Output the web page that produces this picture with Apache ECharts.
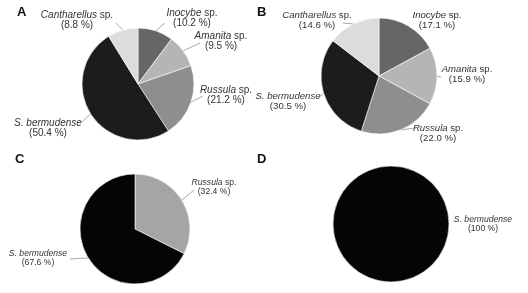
<!DOCTYPE html>
<html><head><meta charset="utf-8">
<script src="https://cdn.jsdelivr.net/npm/echarts@6/dist/echarts.min.js"></script>
<style>html,body{margin:0;padding:0;background:#fff}#c{width:528px;height:293px}</style>
</head><body><div id="c"></div>
<script>
// Data
var genera = ['Inocybe', 'Amanita', 'Russula', 'S. bermudense', 'Cantharellus'];
var valuesA = [10.2, 9.5, 21.2, 50.4, 8.8];
var valuesB = [17.1, 15.9, 22.0, 30.5, 14.6];
var generaC = ['Russula', 'S. bermudense'];
var valuesC = [32.4, 67.6];
var generaD = ['S. bermudense'];
var valuesD = [100];
var panelLetters = ['A', 'B', 'C', 'D'];

// Styles / layout (kept separate from data)
var colorMap = {
  'Inocybe': '#666666', 'Amanita': '#b5b5b5', 'Russula': '#8e8e8e',
  'S. bermudense': '#1c1c1c', 'Cantharellus': '#dcdcdc'
};
var colorMapC = { 'Russula': '#a5a5a5', 'S. bermudense': '#050505' };
var colorMapD = { 'S. bermudense': '#050505' };

// label centre [x, y] and leader end [x, y] for each slice, per panel
var labelPos = [
  { 'Inocybe': [[192, 18], [165, 23]], 'Amanita': [[221, 41], [200, 43]], 'Russula': [[226, 95], [203, 96]],
    'S. bermudense': [[48, 128], [82, 122]], 'Cantharellus': [[77, 20], [116, 23]] },
  { 'Inocybe': [[437, 20], [408, 26]], 'Amanita': [[467, 74], [441, 77]], 'Russula': [[438, 133], [416, 128]],
    'S. bermudense': [[288, 101], [318, 98]], 'Cantharellus': [[317, 20], [343, 23]] },
  { 'Russula': [[214, 187], [194, 190]], 'S. bermudense': [[38, 258], [70, 259]] },
  { 'S. bermudense': [[483, 224], null] }
];
var fontSizes = [10, 9.6, 8.6, 8.6];

function pct(v) { return v === 100 ? '100' : v.toFixed(1); }
function mk(names, vals, cmap) {
  return names.map(function (n, i) {
    return { name: n, value: vals[i], itemStyle: { color: cmap[n] } };
  });
}
var FONT = '"Liberation Sans", Arial, sans-serif';
function makeLabel(fs) {
  var lh = fs * 1.05;
  return {
    show: true, position: 'outside', color: '#333', fontFamily: FONT, fontSize: fs,
    lineHeight: lh, align: 'center',
    formatter: function (p) {
      var s = p.name === 'S. bermudense' ? '' : '{n| sp.}';
      return '{i|' + p.name + '}' + s + '\n{n|(' + pct(p.value) + ' %)}';
    },
    rich: {
      i: { fontStyle: 'italic', fontFamily: FONT, fontSize: fs, color: '#333', lineHeight: lh },
      n: { fontFamily: FONT, fontSize: fs, color: '#333', lineHeight: lh }
    }
  };
}
function series(idx, center, r, data) {
  return {
    type: 'pie', center: center, radius: r, startAngle: 90, clockwise: true,
    data: data, label: makeLabel(fontSizes[idx]),
    labelLine: { show: true, length: 4, length2: 3, lineStyle: { color: '#aaa', width: 1 } },
    silent: true, animation: false, avoidLabelOverlap: false,
    itemStyle: { borderColor: '#fff', borderWidth: 0.6 },
    labelLayout: function (p) {
      var name = data[p.dataIndex].name;
      var pos = labelPos[idx][name];
      var out = { x: pos[0][0], y: pos[0][1], align: 'center', verticalAlign: 'middle',
        hideOverlap: false, moveOverlap: false };
      if (pos[1] && p.labelLinePoints) {
        var p0 = p.labelLinePoints[0];
        out.labelLinePoints = [p0, pos[1], pos[1]];
      } else {
        out.labelLinePoints = [[0, 0], [0, 0], [0, 0]];
      }
      return out;
    }
  };
}
var chart = echarts.init(document.getElementById('c'), null, { renderer: 'canvas' });
chart.setOption({
  backgroundColor: '#fff',
  animation: false,
  graphic: [
    { type: 'text', left: 17, top: 6, style: { text: panelLetters[0], font: 'bold 13px ' + FONT, fill: '#111' } },
    { type: 'text', left: 257, top: 6, style: { text: panelLetters[1], font: 'bold 13px ' + FONT, fill: '#111' } },
    { type: 'text', left: 15, top: 153, style: { text: panelLetters[2], font: 'bold 13px ' + FONT, fill: '#111' } },
    { type: 'text', left: 257, top: 153, style: { text: panelLetters[3], font: 'bold 13px ' + FONT, fill: '#111' } }
  ],
  series: [
    series(0, [138, 84], 56, mk(genera, valuesA, colorMap)),
    series(1, [379, 76], 58, mk(genera, valuesB, colorMap)),
    series(2, [135, 229], 55, mk(generaC, valuesC, colorMapC)),
    series(3, [391, 224], 58, mk(generaD, valuesD, colorMapD))
  ]
});
</script></body></html>
